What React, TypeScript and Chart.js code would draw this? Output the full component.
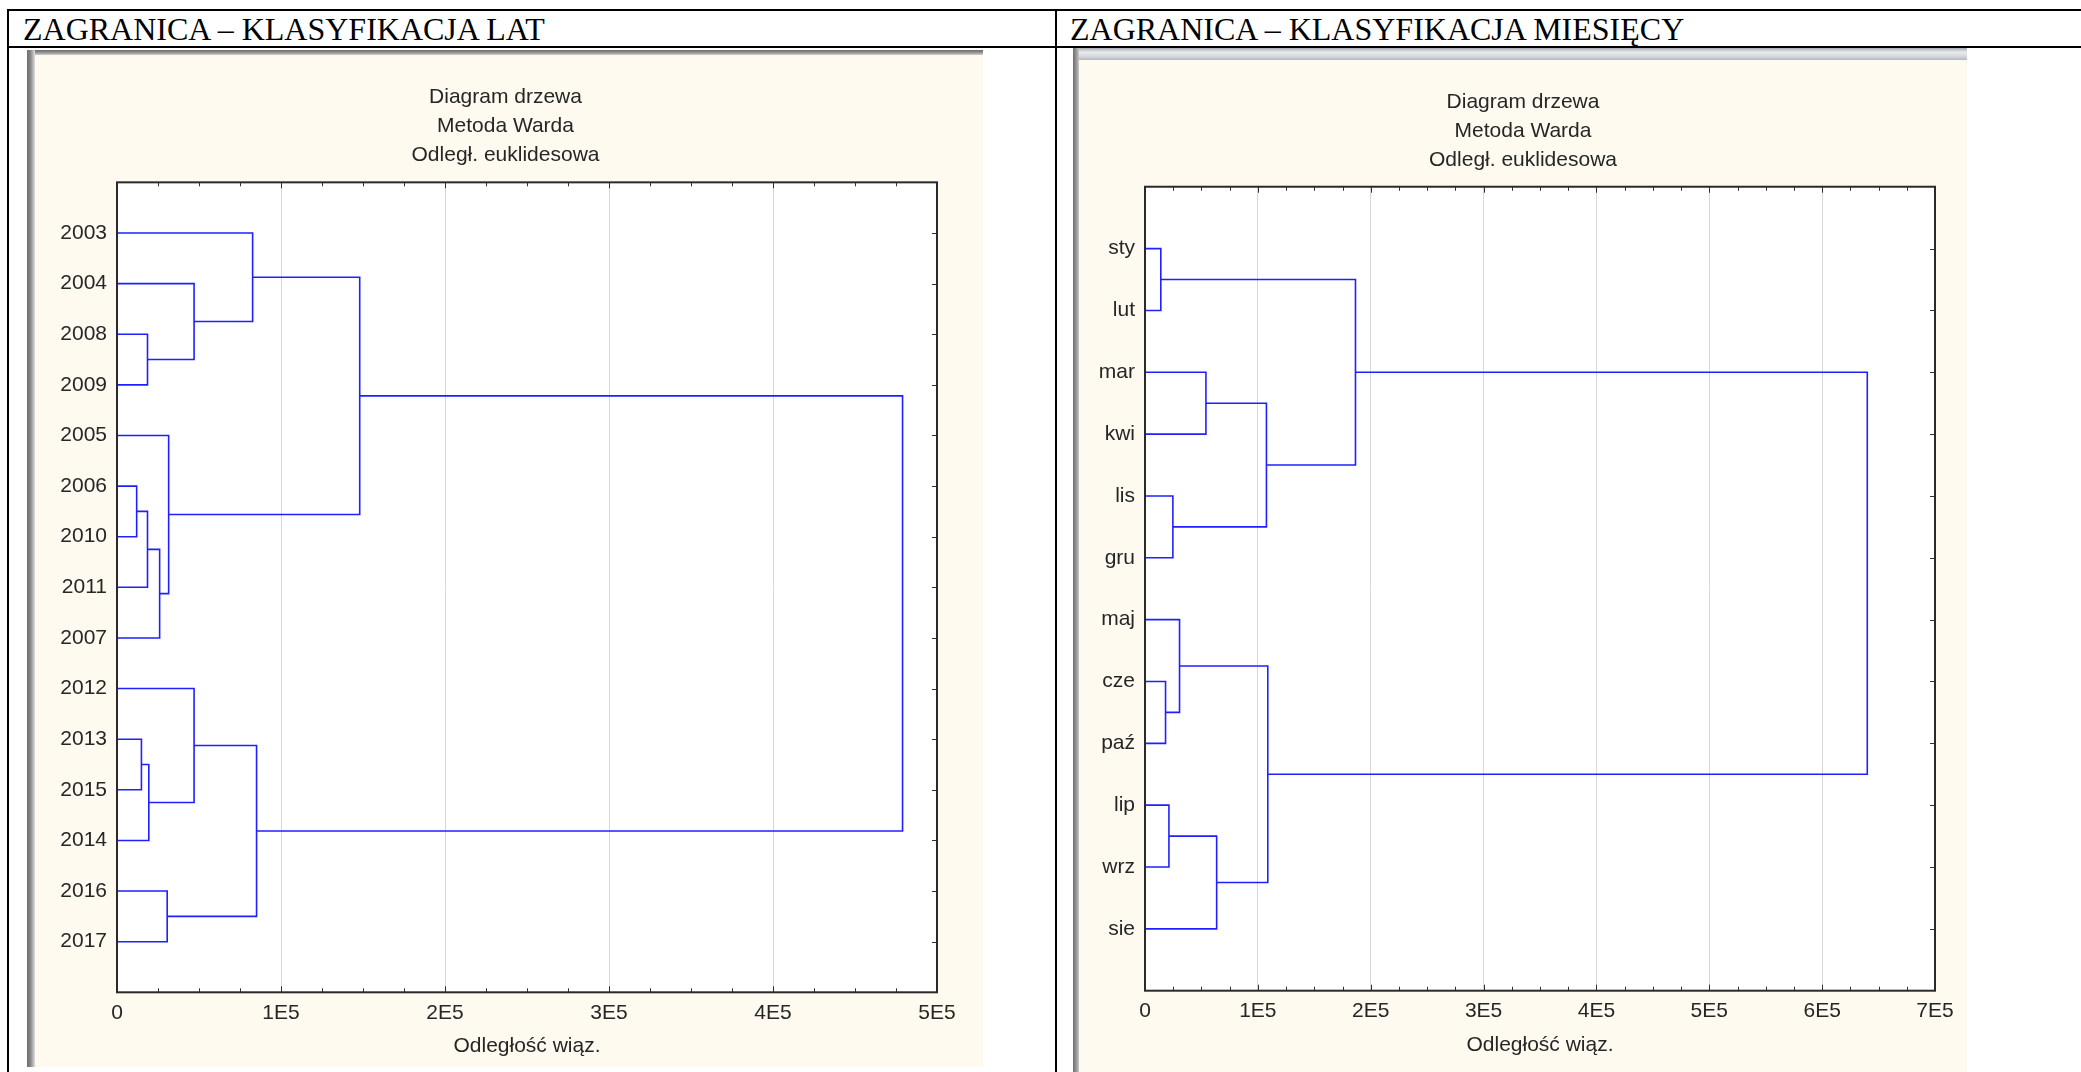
import React, { useEffect, useRef } from "react";
import { Chart, registerables } from "chart.js";

Chart.register(...registerables);

// ---------- DATA ----------
const yearLabels = ["2003", "2004", "2008", "2009", "2005", "2006", "2010", "2011", "2007", "2012", "2013", "2015", "2014", "2016", "2017"];
// linkage: ids < n are leaves, ids >= n are earlier merges (n + index)
const yearMergeA = [5, 10, 2, 15, 16, 18, 13, 4, 1, 9, 0, 24, 25, 27];
const yearMergeB = [6, 11, 3, 7, 12, 8, 14, 20, 17, 19, 23, 21, 22, 26];
const yearMergeHeights = [12000, 14900, 18600, 18600, 19400, 26000, 30600, 31500, 47000, 47000, 82700, 85100, 148000, 479000];
const yearAxisTicks = ["0", "1E5", "2E5", "3E5", "4E5", "5E5"];

const monthLabels = ["sty", "lut", "mar", "kwi", "lis", "gru", "maj", "cze", "paź", "lip", "wrz", "sie"];
const monthMergeA = [0, 7, 9, 4, 6, 2, 14, 17, 16, 12, 21];
const monthMergeB = [1, 8, 10, 5, 13, 3, 11, 15, 18, 19, 20];
const monthMergeHeights = [14000, 18200, 21200, 24700, 30600, 54000, 63500, 107600, 108800, 186500, 640000];
const monthAxisTicks = ["0", "1E5", "2E5", "3E5", "4E5", "5E5", "6E5", "7E5"];

const chartTitleLines = ["Diagram drzewa", "Metoda Warda", "Odległ. euklidesowa"];
const xAxisTitle = "Odległość wiąz.";
const headerLeft = "ZAGRANICA – KLASYFIKACJA LAT";
const headerRight = "ZAGRANICA – KLASYFIKACJA MIESIĘCY";

// ---------- STYLE ----------
const FONT = '"Liberation Sans", Arial, sans-serif';
const TEXT = "#262626";
const BLUE = "#2020ff";
const CREAM = "#fefaef";

function buildSegments(n: number, a: number[], b: number[], h: number[]) {
  const pos: number[] = [];
  const ht: number[] = [];
  for (let i = 0; i < n; i++) {
    pos.push(i + 1);
    ht.push(0);
  }
  const segs: { x: number; y: number }[][] = [];
  for (let k = 0; k < a.length; k++) {
    const ya = pos[a[k]];
    const yb = pos[b[k]];
    segs.push([
      { x: ht[a[k]], y: ya },
      { x: h[k], y: ya },
      { x: h[k], y: yb },
      { x: ht[b[k]], y: yb },
    ]);
    pos.push((ya + yb) / 2);
    ht.push(h[k]);
  }
  return segs;
}

const framePlugin = {
  id: "statFrame",
  beforeDraw(chart: any) {
    const { ctx, chartArea: a } = chart;
    ctx.save();
    ctx.fillStyle = "#ffffff";
    ctx.fillRect(a.left, a.top, a.right - a.left, a.bottom - a.top);
    ctx.restore();
  },
  afterDraw(chart: any) {
    const { ctx, chartArea: a, scales } = chart;
    const xs = scales.x;
    const ys = scales.y;
    const major = xs.options.ticks.stepSize;
    const minor = major / 4;
    ctx.save();
    ctx.strokeStyle = "#303030";
    ctx.lineWidth = 1;
    ctx.beginPath();
    for (let v = 0; v <= xs.max + 1; v += minor) {
      const px = Math.round(xs.getPixelForValue(v)) + 0.5;
      const len = Math.abs(v / major - Math.round(v / major)) < 1e-6 ? 6 : 4;
      ctx.moveTo(px, a.top);
      ctx.lineTo(px, a.top + len);
      ctx.moveTo(px, a.bottom);
      ctx.lineTo(px, a.bottom - len);
    }
    for (let i = ys.min + 1; i < ys.max; i++) {
      const py = Math.round(ys.getPixelForValue(i)) + 0.5;
      ctx.moveTo(a.right, py);
      ctx.lineTo(a.right - 5, py);
    }
    ctx.stroke();
    ctx.lineWidth = 2;
    ctx.strokeStyle = "#2a2a2a";
    ctx.strokeRect(a.left, a.top, a.right - a.left, a.bottom - a.top);
    ctx.restore();
  },
};

interface PanelCfg {
  labels: string[];
  a: number[];
  b: number[];
  h: number[];
  ticks: string[];
  max: number;
  rightWidth: number;
  yWidth: number;
  titlePadBottom: number;
  xHeight: number;
  padBottom: number;
  tickPad: number;
}

function makeConfig(p: PanelCfg): any {
  const segs = buildSegments(p.labels.length, p.a, p.b, p.h);
  const font = { family: FONT, size: 21, weight: "normal" as const };
  return {
    type: "scatter",
    data: {
      datasets: segs.map((d) => ({
        data: d,
        showLine: true,
        borderColor: BLUE,
        borderWidth: 1.6,
        pointRadius: 0,
        pointHoverRadius: 0,
        fill: false,
        tension: 0,
      })),
    },
    options: {
      animation: false,
      responsive: false,
      events: [],
      layout: { padding: { left: 0, right: 0, top: 0, bottom: p.padBottom } },
      plugins: {
        legend: { display: false },
        tooltip: { enabled: false },
        title: {
          display: true,
          text: chartTitleLines,
          color: TEXT,
          font: { family: FONT, size: 21, weight: "normal", lineHeight: 1.38 },
          padding: { top: 27.5, bottom: p.titlePadBottom },
        },
      },
      scales: {
        x: {
          type: "linear",
          position: "bottom",
          min: 0,
          max: p.max,
          ticks: {
            stepSize: 100000,
            autoSkip: false,
            maxRotation: 0,
            color: TEXT,
            font,
            padding: p.tickPad,
            callback: (_v: any, i: number) => p.ticks[i],
          },
          grid: { color: "#d8d8d8", lineWidth: 1, drawTicks: false },
          border: { display: false },
          title: { display: true, text: xAxisTitle, color: TEXT, font, padding: { top: 0, bottom: 0 } },
          afterFit: (s: any) => {
            s.height = p.xHeight;
          },
        },
        y: {
          type: "linear",
          position: "left",
          min: 0,
          max: p.labels.length + 1,
          reverse: true,
          ticks: {
            stepSize: 1,
            autoSkip: false,
            color: TEXT,
            font,
            padding: 10,
            callback: (v: any) => (Number.isInteger(v) && v >= 1 && v <= p.labels.length ? p.labels[v - 1] : ""),
          },
          grid: { display: false, drawTicks: false },
          border: { display: false },
          afterFit: (s: any) => {
            s.width = p.yWidth;
          },
        },
        yRight: {
          type: "linear",
          position: "right",
          display: true,
          min: 0,
          max: 1,
          ticks: { display: false },
          grid: { display: false, drawTicks: false },
          border: { display: false },
          afterFit: (s: any) => {
            s.width = p.rightWidth;
          },
        },
      },
    },
    plugins: [framePlugin],
  };
}

const abs = (l: number, t: number, w: number, h: number, extra: React.CSSProperties = {}): React.CSSProperties => ({
  position: "absolute",
  left: l,
  top: t,
  width: w,
  height: h,
  ...extra,
});

export default function App() {
  const leftRef = useRef<HTMLCanvasElement>(null);
  const rightRef = useRef<HTMLCanvasElement>(null);

  useEffect(() => {
    const c1 = new Chart(
      leftRef.current as HTMLCanvasElement,
      makeConfig({
        labels: yearLabels,
        a: yearMergeA,
        b: yearMergeB,
        h: yearMergeHeights,
        ticks: yearAxisTicks,
        max: 500000,
        rightWidth: 39,
        yWidth: 82,
        titlePadBottom: 12.9,
        xHeight: 66.3,
        padBottom: 8.4,
        tickPad: 8,
      })
    );
    const c2 = new Chart(
      rightRef.current as HTMLCanvasElement,
      makeConfig({
        labels: monthLabels,
        a: monthMergeA,
        b: monthMergeB,
        h: monthMergeHeights,
        ticks: monthAxisTicks,
        max: 700000,
        rightWidth: 32,
        yWidth: 66,
        titlePadBottom: 12.3,
        xHeight: 66.9,
        padBottom: 14.4,
        tickPad: 7.5,
      })
    );
    return () => {
      c1.destroy();
      c2.destroy();
    };
  }, []);

  const headerFont: React.CSSProperties = {
    fontFamily: '"Liberation Serif", "Times New Roman", serif',
    fontSize: 32,
    lineHeight: "32px",
    whiteSpace: "nowrap",
    color: "#000",
  };

  return (
    <div style={{ position: "absolute", left: 0, top: 0, width: 2081, height: 1072, overflow: "hidden", background: "#fff" }}>
      {/* table lines */}
      <div style={abs(7, 9, 2074, 2, { background: "#000" })} />
      <div style={abs(7, 46, 2074, 2, { background: "#000" })} />
      <div style={abs(7, 9, 2, 1063, { background: "#000" })} />
      <div style={abs(1055, 9, 2, 1063, { background: "#000" })} />

      {/* headers */}
      <div style={abs(23, 12.5, 1000, 32, headerFont)}>{headerLeft}</div>
      <div style={abs(1070, 12.5, 1000, 32, headerFont)}>{headerRight}</div>

      {/* left chart window */}
      <div style={abs(35, 55, 948, 1012, { background: CREAM })} />
      <div style={abs(27, 50, 956, 5, { background: "linear-gradient(to bottom, #6c6c6c, #979797 55%, #d2d2d2)" })} />
      <div style={abs(27, 50, 8, 1017, { background: "linear-gradient(to right, #6c6c6c, #8a8a8a 45%, #b8b8b8 75%, #dedede)" })} />
      <canvas ref={leftRef} width={941} height={1012} style={abs(35, 55, 941, 1012)} />

      {/* right chart window */}
      <div style={abs(1079, 60, 888, 1012, { background: CREAM })} />
      <div style={abs(1073, 48, 894, 12, { background: "linear-gradient(to bottom, #a9adb3, #e9ebee 35%, #d4d7db 70%, #b4b7bc)" })} />
      <div style={abs(1073, 48, 6, 1024, { background: "linear-gradient(to right, #6f6f6f, #939393 50%, #c8c8c8)" })} />
      <canvas ref={rightRef} width={888} height={1012} style={abs(1079, 60, 888, 1012)} />
    </div>
  );
}
